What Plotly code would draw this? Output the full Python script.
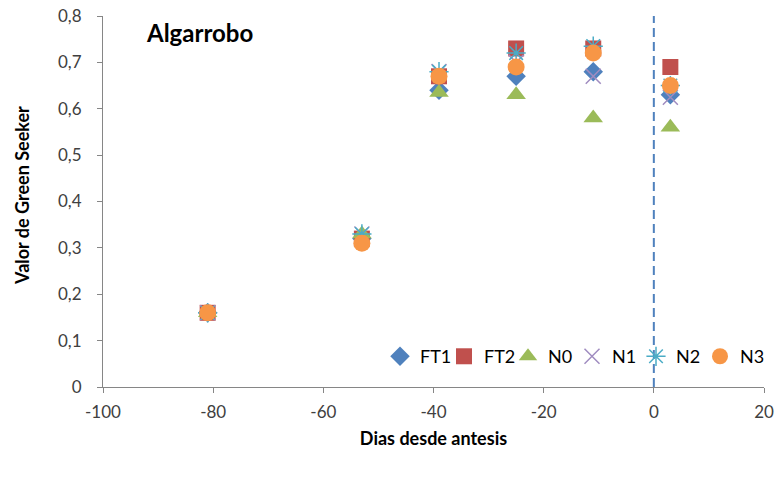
import plotly.graph_objects as go

dias = [-81, -53, -39, -25, -11, 3]
FT1 = [0.16, 0.32, 0.64, 0.67, 0.68, 0.63]
FT2 = [0.16, 0.32, 0.67, 0.73, 0.73, 0.69]
N0 = [0.16, 0.33, 0.635, 0.63, 0.58, 0.56]
N1 = [0.16, 0.33, 0.68, 0.70, 0.67, 0.625]
N2 = [0.16, 0.33, 0.68, 0.72, 0.735, 0.65]
N3 = [0.16, 0.31, 0.67, 0.69, 0.72, 0.65]
antesis = 0
xtick_vals = [-100, -80, -60, -40, -20, 0, 20]
xtick_text = ["-100", "-80", "-60", "-40", "-20", "0", "20"]
ytick_vals = [0, 0.1, 0.2, 0.3, 0.4, 0.5, 0.6, 0.7, 0.8]
ytick_text = ["0", "0,1", "0,2", "0,3", "0,4", "0,5", "0,6", "0,7", "0,8"]

series = [
    ("FT1", FT1, dict(symbol="diamond", size=15, color="#4F81BD")),
    ("FT2", FT2, dict(symbol="square", size=16, color="#C0504D")),
    ("N0", N0, dict(symbol="triangle-up", size=17, color="#9BBB59")),
    ("N1", N1, dict(symbol="x-thin", size=15, color="#8064A2",
                    line=dict(color="#A08CC0", width=1.5))),
    ("N2", N2, dict(symbol="asterisk", size=16, color="#4BACC6",
                    line=dict(color="#4BACC6", width=1.5))),
    ("N3", N3, dict(symbol="circle", size=17, color="#F79646")),
]

fig = go.Figure()
for name, vals, mk in series:
    fig.add_trace(go.Scatter(x=dias, y=vals, name=name, mode="markers", marker=mk))

fig.add_shape(type="line", xref="x", yref="y", x0=antesis, x1=antesis, y0=0, y1=0.8,
              line=dict(color="#4F81BD", width=2, dash="9px,5px"), layer="below")

fig.add_annotation(text="<b>Algarrobo</b>", xref="paper", yref="paper", x=0.062, y=0.955,
                   xanchor="left", yanchor="middle", showarrow=False,
                   font=dict(family="Lato", size=24, color="#000000"))

fig.add_annotation(text="<b>Valor de Green Seeker</b>", xref="paper", yref="paper",
                   x=-0.1225, y=0.515, xanchor="center", yanchor="middle",
                   textangle=-90, showarrow=False,
                   font=dict(family="Lato", size=18, color="#000000"))

axis_common = dict(showline=True, linecolor="#868686", linewidth=1, ticks="outside",
                   ticklen=5, tickcolor="#868686", showgrid=False, zeroline=False,
                   automargin=False,
                   tickfont=dict(family="Lato", size=17, color="#404040"))

fig.update_layout(
    width=779, height=479,
    margin=dict(l=103, r=15, t=16, b=92),
    plot_bgcolor="white", paper_bgcolor="white",
    font=dict(family="Lato"),
    xaxis=dict(range=[-100, 20], tickvals=xtick_vals, ticktext=xtick_text,
               ticklabelstandoff=5,
               title=dict(text="<b>Dias desde antesis</b>", standoff=10,
                          font=dict(family="Lato", size=18, color="#000000")),
               **axis_common),
    yaxis=dict(range=[0, 0.8], tickvals=ytick_vals, ticktext=ytick_text,
               ticklabelstandoff=12,
               **axis_common),
    legend=dict(orientation="h", x=1, xanchor="right", y=0.082, yanchor="middle",
                font=dict(family="Lato", size=18, color="#000000"),
                bgcolor="rgba(0,0,0,0)", itemwidth=30, tracegroupgap=0,
                entrywidth=19, entrywidthmode="pixels"),
    showlegend=True,
)

fig.write_html("out.html", config={"displayModeBar": False},
               post_script="document.body.style.margin='0';")
